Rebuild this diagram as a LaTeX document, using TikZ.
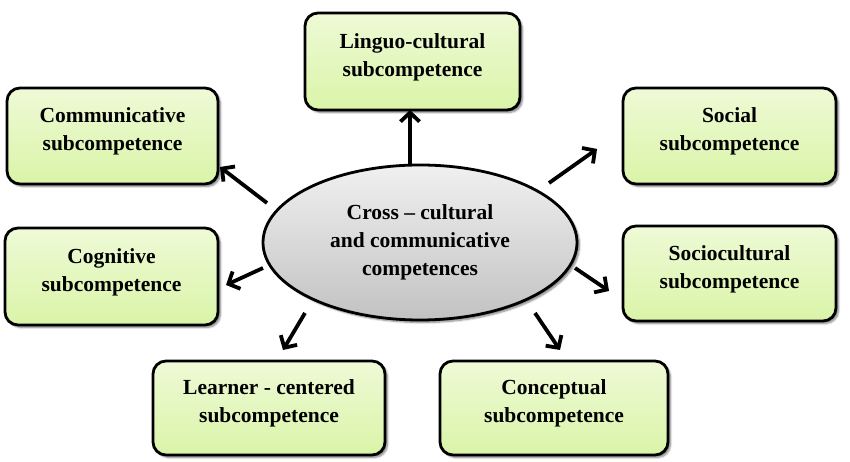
\documentclass[tikz,border=0pt]{standalone}
\usepackage{fontspec}
\setmainfont{Liberation Serif}
\usetikzlibrary{shapes.geometric,arrows.meta,shadows.blur}
\definecolor{boxtop}{HTML}{EEFAD6}
\definecolor{boxbot}{HTML}{DAF4A8}
\definecolor{elltop}{HTML}{F0F0F0}
\definecolor{ellbot}{HTML}{C2C2C2}
\tikzset{
  subbox/.style={draw=black, line width=2.8pt, rounded corners=13pt,
    top color=boxtop, bottom color=boxbot, align=center,
    font=\fontsize{21.5}{28}\selectfont\bfseries, inner sep=0pt, text depth=13pt,
    blur shadow={shadow xshift=2.5pt, shadow yshift=-2.5pt, shadow blur steps=6, shadow opacity=50}},
  centre/.style={ellipse, draw=black, line width=2.8pt, top color=elltop, bottom color=ellbot,
    align=center, font=\fontsize{21.5}{28}\selectfont\bfseries, inner sep=0pt,
    minimum width=314pt, minimum height=155pt,
    blur shadow={shadow xshift=2.5pt, shadow yshift=-2.5pt, shadow blur steps=6, shadow opacity=50}},
  link/.style={line width=3.8pt, -{Straight Barb[length=9pt,width=19pt,line width=3.8pt]}}
}
\begin{document}
\begin{tikzpicture}[x=1pt,y=1pt]
\useasboundingbox (0,0) rectangle (850,462);
\node[centre] (ctr) at (420,219.5) {Cross -- cultural\\and communicative\\competences};
\node[subbox, minimum width=215pt, minimum height=97pt] (ling) at (412.5,400.5) {Linguo-cultural\\subcompetence};
\node[subbox, minimum width=211pt, minimum height=96pt] (comm) at (112.5,326) {Communicative\\subcompetence};
\node[subbox, minimum width=213pt, minimum height=96pt] (soc) at (729.5,326) {Social\\subcompetence};
\node[subbox, minimum width=213pt, minimum height=97pt] (cog) at (111.5,185.5) {Cognitive\\subcompetence};
\node[subbox, minimum width=213pt, minimum height=95pt] (scult) at (729.5,188.5) {Sociocultural\\subcompetence};
\node[subbox, minimum width=232pt, minimum height=94pt] (learn) at (269,54) {Learner - centered\\subcompetence};
\node[subbox, minimum width=228pt, minimum height=94pt] (conc) at (554,54) {Conceptual\\subcompetence};
% free ends of the arrows
\coordinate (commS) at (267,259);  \coordinate (commE) at (220,295);
\coordinate (socS) at (549,279);   \coordinate (socE) at (597,313);
\coordinate (scS) at (575,194);    \coordinate (scE) at (609,171);
\coordinate (cogS) at (263,194);   \coordinate (cogE) at (226,177);
\coordinate (lrS) at (305,149);    \coordinate (lrE) at (283,112);
\coordinate (coS) at (535,149);    \coordinate (coE) at (560,112);
\coordinate (upS) at (410,296);    \coordinate (upE) at (410,352);
\draw[link] (upS) -- (upE);
\draw[link] (commS) -- (commE);
\draw[link] (socS) -- (socE);
\draw[link] (scS) -- (scE);
\draw[link] (cogS) -- (cogE);
\draw[link] (lrS) -- (lrE);
\draw[link] (coS) -- (coE);
\end{tikzpicture}
\end{document}
